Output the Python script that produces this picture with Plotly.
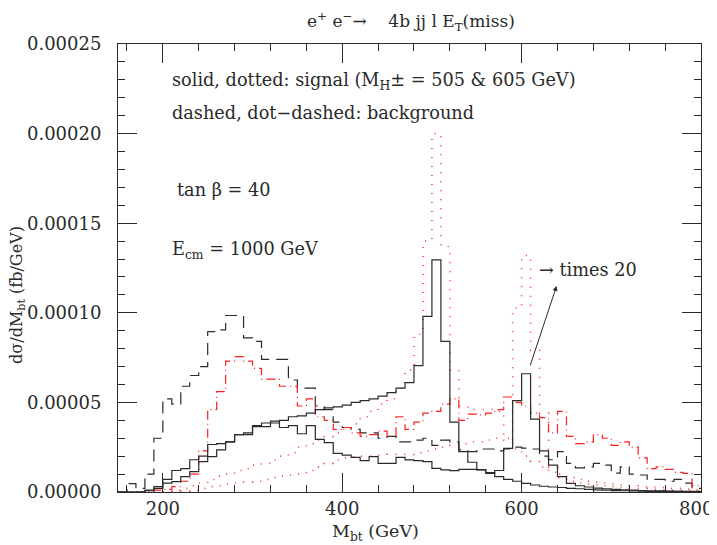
import plotly.graph_objects as go

# bin left edges (GeV), 10 GeV bins from 150 to 800
bin_lo = list(range(150, 800, 10))
bin_w = 10

# all series in units of 1e-5 fb/GeV, one value per bin
# solid: signal M_H = 505 GeV
solid_505 = [0, 0, 0, 0.1, 0.3, 0.7, 1.2, 1.3, 1.8, 2.0,
             2.65, 2.7, 2.8, 3.2, 3.2, 3.65, 3.65, 3.85, 4.0, 4.2,
             4.25, 4.4, 4.6, 4.7, 4.75, 4.85, 5.0, 5.1, 5.2, 5.35,
             5.55, 5.8, 6.1, 7.05, 9.8, 12.95, 8.4, 3.9, 2.25, 1.66,
             1.25, 1.08, 0.86, 0.7, 0.6, 0.48, 0.39, 0.32, 0.28, 0.25,
             0.2, 0.18, 0.15, 0.12, 0.1, 0.08, 0.07, 0.06, 0.05, 0.04,
             0.04, 0.03, 0.03, 0.02, 0.02]
# solid: signal M_H = 605 GeV
solid_605 = [0, 0, 0, 0.07, 0.2, 0.5, 0.58, 0.86, 1.14, 1.7,
             1.97, 2.35, 2.8, 3.2, 3.3, 3.7, 3.85, 3.95, 3.6, 3.7,
             3.25, 3.7, 2.94, 2.75, 2.16, 2.06, 1.93, 1.75, 1.97, 1.6,
             1.6, 1.93, 1.79, 1.75, 1.69, 1.32, 1.23, 1.19, 1.26, 1.26,
             1.23, 1.04, 1.2, 2.44, 5.1, 6.6, 4.07, 2.3, 1.5, 0.86,
             0.48, 0.35, 0.28, 0.22, 0.18, 0.15, 0.12, 0.1, 0.08, 0.07,
             0.06, 0.05, 0.04, 0.03, 0.03]
# dotted: signal M_H = 505 GeV
dotted_505 = [0, 0, 0, 0, 0, 0.05, 0.1, 0.2, 0.35, 0.5,
              0.7, 0.9, 1.0, 1.2, 1.3, 1.5, 1.6, 1.8, 2.0, 2.2,
              2.5, 2.7, 2.9, 3.1, 3.3, 3.5, 3.8, 4.2, 4.5, 4.9,
              5.2, 5.8, 6.8, 8.8, 14.0, 20.0, 13.7, 6.8, 4.8, 4.6,
              4.6, 4.6, 4.5, 3.0, 2.4, 2.0, 1.7, 1.4, 1.1, 0.8,
              0.6, 0.5, 0.45, 0.4, 0.35, 0.3, 0.25, 0.2, 0.2, 0.15,
              0.12, 0.1, 0.1, 0.08, 0.05]
# dotted: signal M_H = 605 GeV
dotted_605 = [0, 0, 0, 0, 0, 0, 0.02, 0.05, 0.1, 0.2,
              0.3, 0.35, 0.45, 0.5, 0.55, 0.6, 0.7, 0.8, 0.9, 0.95,
              1.0, 1.2, 1.4, 1.6, 1.8, 1.9, 1.95, 2.0, 2.0, 2.05,
              2.1, 2.1, 2.1, 2.2, 2.3, 2.4, 2.5, 2.6, 2.7, 2.8,
              2.8, 2.9, 3.0, 2.9, 10.25, 13.2, 7.9, 4.4, 1.4, 1.0,
              0.8, 0.7, 0.6, 0.55, 0.5, 0.45, 0.4, 0.35, 0.3, 0.28,
              0.25, 0.2, 0.2, 0.15, 0.12]
# dashed: background
dashed_bkg = [0, 0.47, 0.2, 1.0, 3.0, 5.2, 4.9, 5.9, 6.5, 7.0,
              8.95, 9.05, 9.85, 9.85, 8.6, 8.4, 7.4, 7.4, 7.4, 6.25,
              5.8, 5.8, 4.8, 4.6, 3.9, 3.6, 3.5, 3.3, 3.3, 3.0,
              3.1, 2.8, 2.8, 2.9, 3.0, 2.6, 2.9, 2.8, 2.35, 2.25,
              2.4, 2.4, 2.3, 2.4, 2.5, 2.45, 2.4, 2.0, 1.8, 2.25,
              1.6, 1.35, 1.4, 1.6, 1.5, 1.05, 1.4, 1.0, 0.95, 0.7,
              0.7, 0.6, 0.7, 0.5, 0.2]
# dot-dashed: background
dotdash_bkg = [0, 0, 0, 0.05, 0.1, 0.15, 0.3, 0.6, 1.0, 2.3,
               4.6, 5.6, 7.3, 7.55, 7.3, 6.9, 6.3, 6.3, 5.9, 5.9,
               4.8, 5.2, 4.2, 4.0, 3.5, 3.6, 3.3, 3.1, 3.2, 3.4,
               3.1, 4.2, 3.5, 3.9, 4.4, 4.5, 4.9, 5.2, 4.0, 4.35,
               4.3, 4.4, 4.6, 5.3, 5.0, 4.8, 4.4, 4.15, 3.3, 4.5,
               3.1, 2.7, 2.8, 3.2, 3.0, 2.6, 2.8, 2.5, 1.9, 1.3,
               1.4, 1.26, 1.1, 1.04, 0.35]

# x tick labels (the last one is drawn as a note so it stays inside the page)
x_tickvals = [200, 400, 600, 800]
x_ticktext = ["200", "400", "600", ""]
last_tick_label = "800"

SCALE = 1e-5
FONT = "DejaVu Serif"
INK = "#2a2a2a"


def step_trace(values, color, dash, width):
    # histogram outline: left edges plus the closing right edge
    xs = bin_lo + [bin_lo[-1] + bin_w]
    ys = [v * SCALE for v in values] + [values[-1] * SCALE]
    return go.Scatter(
        x=xs, y=ys, mode="lines", line_shape="hv",
        line=dict(color=color, dash=dash, width=width),
        hoverinfo="skip", showlegend=False,
    )


fig = go.Figure()
fig.add_trace(step_trace(dashed_bkg, INK, "12px,7px", 1.2))
fig.add_trace(step_trace(dotdash_bkg, "#ff2020", "9px,4px,1px,4px", 1.2))
fig.add_trace(step_trace(dotted_505, "#ff3030", "1px,8px", 1.6))
fig.add_trace(step_trace(dotted_605, "#ff3030", "1px,8px", 1.6))
fig.add_trace(step_trace(solid_605, INK, "solid", 1.2))
fig.add_trace(step_trace(solid_505, INK, "solid", 1.2))

axis_common = dict(
    showline=True, linecolor=INK, linewidth=1, mirror="allticks",
    ticks="inside", ticklen=19, tickcolor=INK, tickwidth=1,
    showgrid=False, zeroline=False, automargin=False,
    ticklabeloverflow="allow",
    tickfont=dict(family=FONT, size=18, color=INK),
)
fig.update_xaxes(
    range=[150, 800], tickvals=x_tickvals, ticktext=x_ticktext,
    minor=dict(ticks="inside", ticklen=7, dtick=40, tick0=0, tickcolor=INK, showgrid=False),
    ticklabelstandoff=0,
    **axis_common,
)
fig.update_yaxes(
    range=[0, 0.00025], tick0=0, dtick=0.00005, tickformat=".5f",
    minor=dict(ticks="inside", ticklen=7, dtick=0.00001, tick0=0, tickcolor=INK, showgrid=False),
    ticklabelstandoff=12,
    **axis_common,
)

fig.add_annotation(x=794, y=-0.037, xref="x", yref="paper", text=last_tick_label,
                   showarrow=False, xanchor="center", yanchor="middle",
                   font=dict(family=FONT, size=18, color=INK))

txt = dict(family=FONT, size=17.7, color=INK)
notes = [
    (208, 22.9e-5, "solid, dotted: signal (M<sub>H</sub>± = 505 &amp; 605 GeV)"),
    (208, 21.17e-5, "dashed, dot−dashed: background"),
    (213.5, 16.85e-5, "tan β = 40"),
    (208, 13.5e-5, "E<sub>cm</sub> = 1000 GeV"),
    (617, 12.39e-5, "→ times 20"),
]
for nx, ny, t in notes:
    fig.add_annotation(x=nx, y=ny, xref="x", yref="y", text=t, showarrow=False,
                       xanchor="left", yanchor="middle", font=txt)

# arrow from the 605 solid peak up to the "times 20" label
fig.add_annotation(x=639, y=11.5e-5, ax=609, ay=6.98e-5, xref="x", yref="y",
                   axref="x", ayref="y", text="", showarrow=True,
                   arrowhead=2, arrowsize=1, arrowwidth=1, arrowcolor=INK)

fig.add_annotation(x=0.5026, y=1.05, xref="paper", yref="paper", showarrow=False,
                   text="e<sup>+</sup> e<sup>−</sup>→&nbsp;&nbsp;&nbsp; 4b jj l E<sub>T</sub>(miss)",
                   font=dict(family=FONT, size=17, color=INK),
                   xanchor="center", yanchor="middle")
fig.add_annotation(x=-0.1715, y=0.44, xref="paper", yref="paper", showarrow=False,
                   text="dσ/dM<sub>bt</sub> (fb/GeV)", textangle=-90,
                   font=dict(family=FONT, size=16, color=INK),
                   xanchor="center", yanchor="middle")
fig.add_annotation(x=0.4425, y=-0.09, xref="paper", yref="paper", showarrow=False,
                   text="M<sub>bt</sub> (GeV)", font=dict(family=FONT, size=17.5, color=INK),
                   xanchor="center", yanchor="middle")

# the page body adds an 8px offset, so the figure is 8px smaller on each side
fig.update_layout(
    width=709, height=537,
    margin=dict(l=110, r=16, t=36, b=53),
    plot_bgcolor="white", paper_bgcolor="white",
    font=dict(family=FONT, color=INK),
)

fig.write_html("out.html")
